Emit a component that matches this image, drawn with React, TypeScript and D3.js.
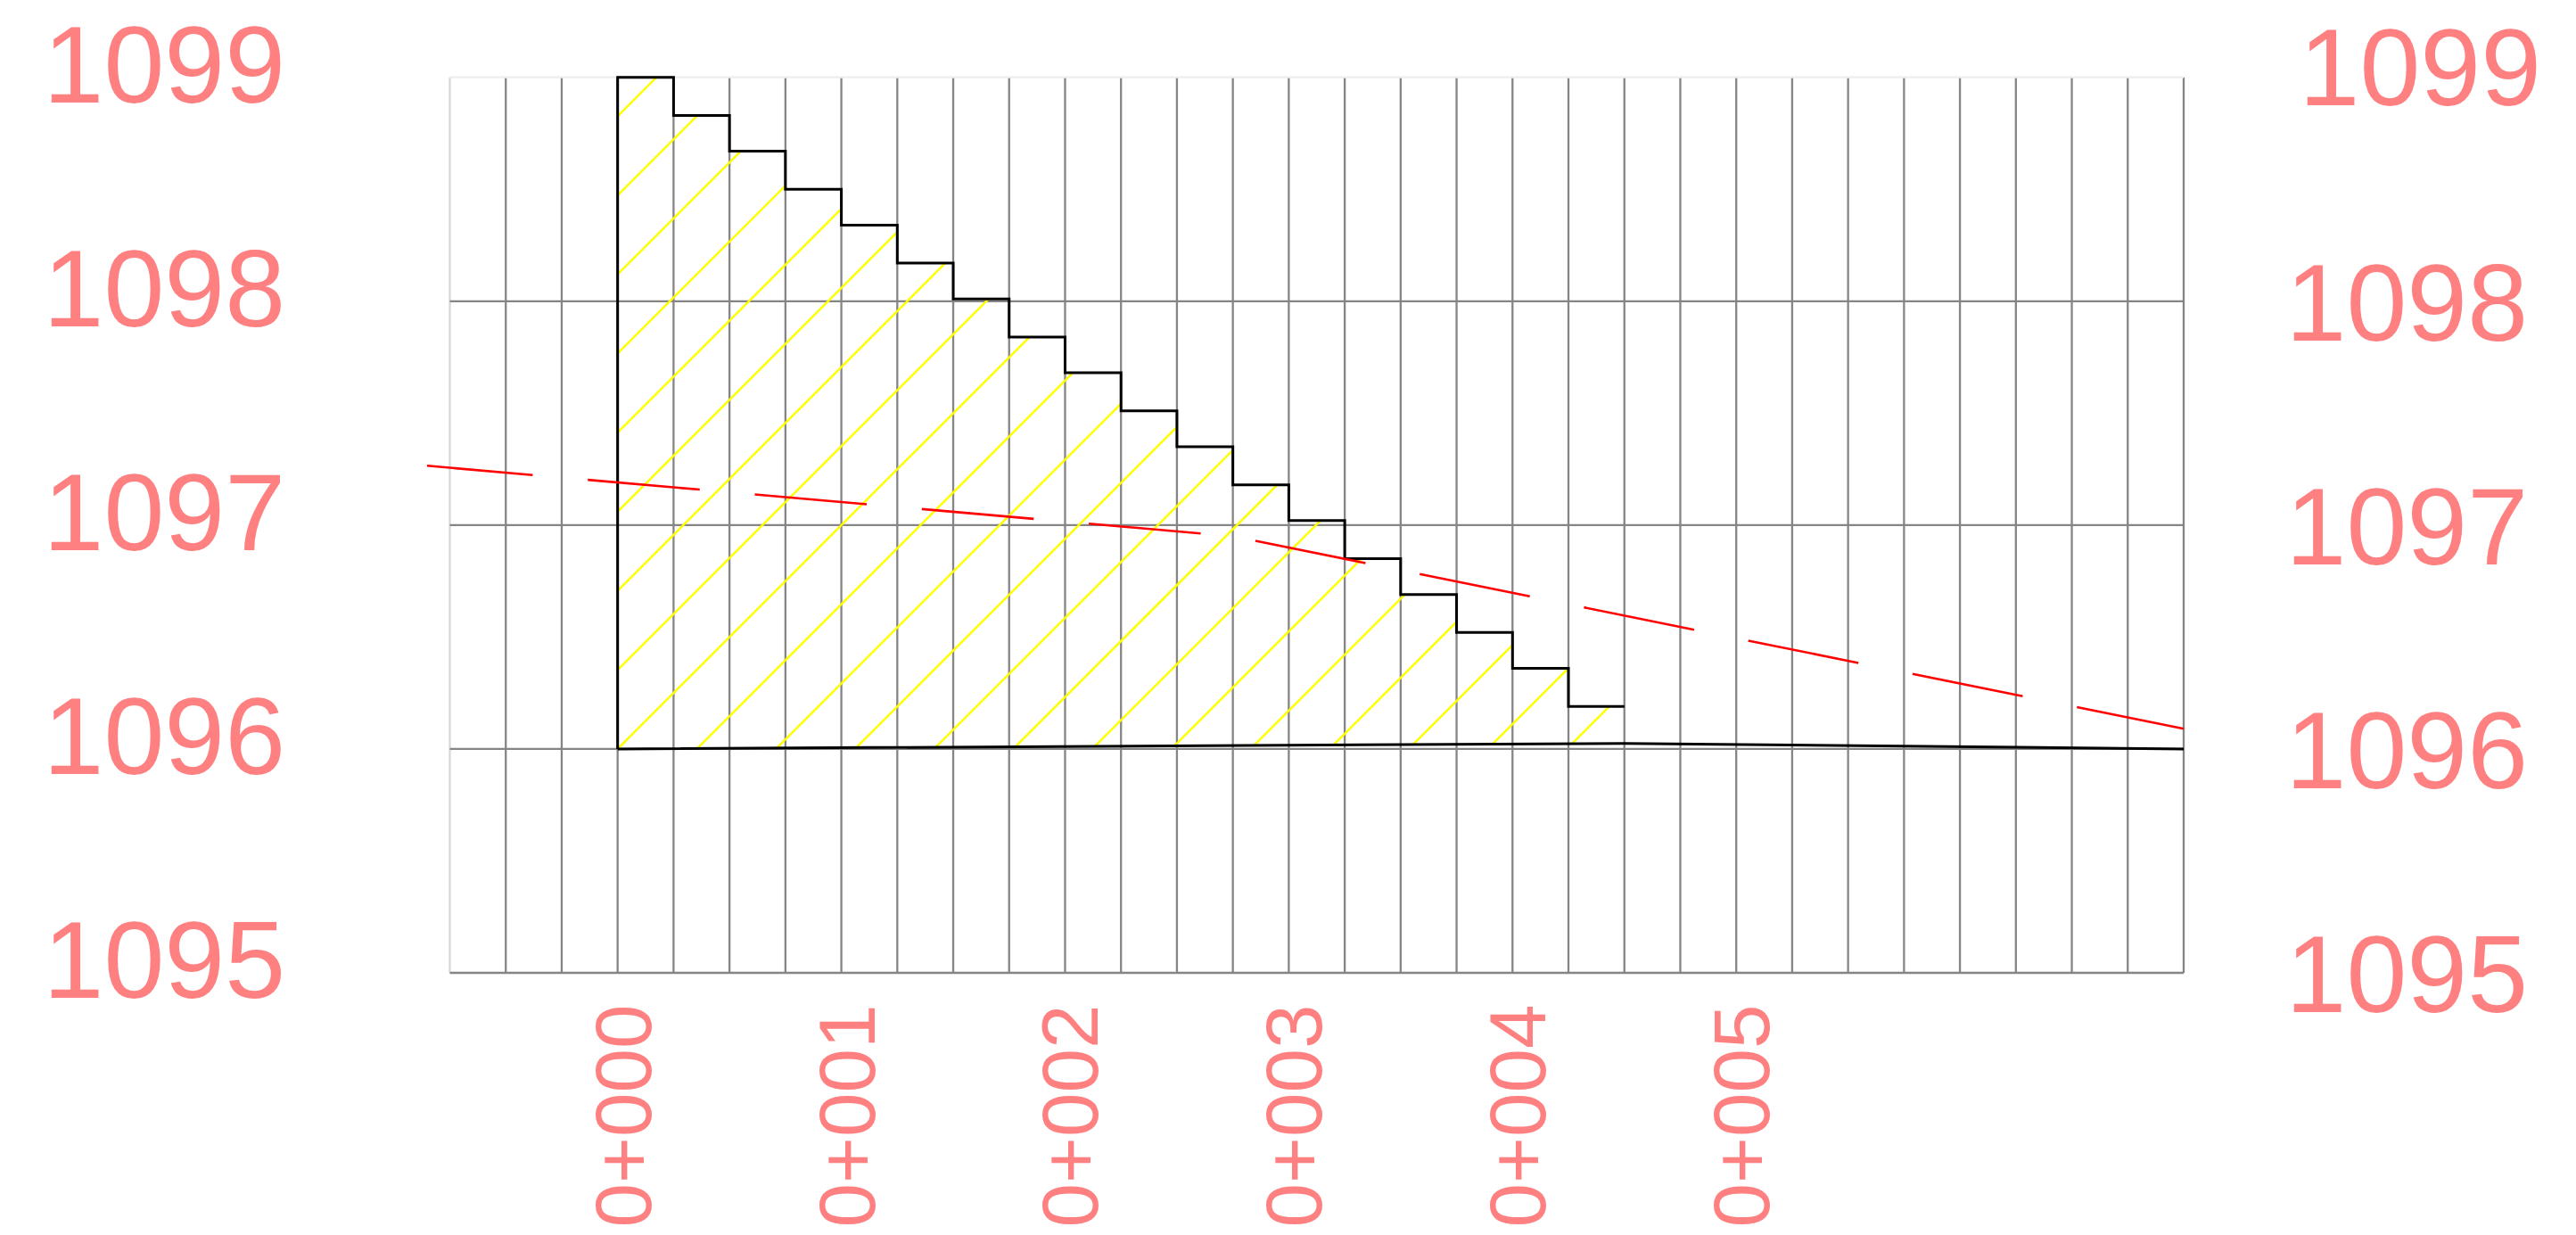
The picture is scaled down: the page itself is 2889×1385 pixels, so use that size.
import React from 'react';
import * as d3 from 'd3';

const W = 2889;
const H = 1385;

// Elevation ticks (left & right labels, horizontal grid)
const elevTicks = [1095, 1096, 1097, 1098, 1099];
// Station ticks shown on the bottom
const stationTicks = [0, 1, 2, 3, 4, 5];
const stationLabels = ['0+000', '0+001', '0+002', '0+003', '0+004', '0+005'];

// Station range of the grid and its column step
const stationMin = -0.75;
const stationMax = 7.0;
const gridStep = 0.25;

// Stepped fill profile: start station of each step and its elevation
const stepStarts = [0, 0.25, 0.5, 0.75, 1, 1.25, 1.5, 1.75, 2, 2.25, 2.5, 2.75, 3, 3.25, 3.5, 3.75, 4, 4.25];
const stepElev = [
  1099.0, 1098.83, 1098.67, 1098.5, 1098.34, 1098.17, 1098.01, 1097.84, 1097.68,
  1097.51, 1097.35, 1097.18, 1097.02, 1096.85, 1096.69, 1096.52, 1096.36, 1096.19,
];
const stepEnd = 4.5;

// Ground line
const groundX = [0, 4.5, 7.0];
const groundY = [1096.0, 1096.025, 1096.0];

// Red dashed design line
const designX = [-0.852, 2.75, 7.0];
const designY = [1097.265, 1096.95, 1096.09];

const FONT = '"Liberation Sans", Arial, Helvetica, sans-serif';
const LABEL = '#ff8080';

export default function App() {
  const x = d3.scaleLinear().domain([stationMin, stationMax]).range([504.5, 2449]);
  const y = d3.scaleLinear().domain([1095, 1099]).range([1091, 86.7]);

  const nCols = Math.round((stationMax - stationMin) / gridStep);
  const vLines = d3.range(0, nCols + 1).map((i) => stationMin + i * gridStep);

  const groundAt = d3.scaleLinear().domain(groundX).range(groundY);

  const stairPts: [number, number][] = [[0, groundAt(0)]];
  stepStarts.forEach((s, i) => stairPts.push([s, stepElev[i]]));
  stairPts.push([stepEnd, stepElev[stepElev.length - 1]]);

  const stairLine = d3
    .line<[number, number]>()
    .x((d) => x(d[0]))
    .y((d) => y(d[1]))
    .curve(d3.curveStepAfter);

  const plainLine = d3
    .line<[number, number]>()
    .x((d) => x(d[0]))
    .y((d) => y(d[1]));

  // clip polygon for hatch = stair outline + ground back to start
  const stairPath = stairLine(stairPts) || '';
  const clipPath =
    stairPath +
    `L${x(stepEnd)},${y(groundAt(stepEnd))}L${x(0)},${y(groundAt(0))}Z`;

  // hatch lines at 45°, perpendicular spacing = one grid column
  const colPx = x(gridStep) - x(0);
  const hs = colPx * Math.SQRT2;
  const c0 = x(0) + y(1096);
  const hatch = d3.range(-30, 40).map((k) => {
    const c = c0 + k * hs;
    return { x1: c - H, y1: H, x2: c, y2: 0 };
  });

  const groundPts: [number, number][] = groundX.map((g, i) => [g, groundY[i]]);
  const designPts: [number, number][] = designX.map((g, i) => [g, designY[i]]);

  return (
    <svg
      width={W}
      height={H}
      viewBox={`0 0 ${W} ${H}`}
      style={{ position: 'absolute', left: 0, top: 0, background: '#fff' }}
    >
      <rect x={0} y={0} width={W} height={H} fill="#fff" />
      <defs>
        <clipPath id="fillClip">
          <path d={clipPath} />
        </clipPath>
      </defs>

      {/* grid */}
      {vLines.map((v, i) => (
        <line
          key={'v' + i}
          x1={x(v)}
          x2={x(v)}
          y1={y(1099)}
          y2={y(1095)}
          stroke={i === 0 ? '#d8d8d8' : '#858585'}
          strokeWidth={2.3}
        />
      ))}
      {elevTicks.map((e) => (
        <line
          key={'h' + e}
          x1={x(stationMin)}
          x2={x(stationMax)}
          y1={y(e)}
          y2={y(e)}
          stroke={e === 1099 ? '#eeeeee' : '#858585'}
          strokeWidth={2.3}
        />
      ))}

      {/* hatch */}
      <g clipPath="url(#fillClip)">
        {hatch.map((h, i) => (
          <line key={'hh' + i} x1={h.x1} y1={h.y1} x2={h.x2} y2={h.y2} stroke="#ffff00" strokeWidth={2.5} />
        ))}
      </g>

      {/* ground */}
      <path d={plainLine(groundPts) || ''} fill="none" stroke="#000" strokeWidth={3} />
      {/* stepped profile */}
      <path d={stairPath} fill="none" stroke="#000" strokeWidth={3} />

      {/* red dashed design line */}
      <path
        d={plainLine(designPts) || ''}
        fill="none"
        stroke="#ff0000"
        strokeWidth={2.6}
        strokeDasharray="126 62"
        strokeDashoffset={7}
      />

      {/* left labels */}
      {elevTicks.map((e) => (
        <text
          key={'l' + e}
          x={320}
          y={y(e) + 28}
          textAnchor="end"
          fontFamily={FONT}
          fontSize={122}
          fill={LABEL}
        >
          {e}
        </text>
      ))}
      {/* right labels */}
      {elevTicks.map((e) => {
        const top = e === 1099;
        return (
          <text
            key={'r' + e}
            x={top ? 2850 : 2835}
            y={y(e) + (top ? 31 : 44)}
            textAnchor="end"
            fontFamily={FONT}
            fontSize={122}
            fill={LABEL}
          >
            {e}
          </text>
        );
      })}

      {/* station labels */}
      {stationTicks.map((s, i) => (
        <text
          key={'s' + s}
          transform={`translate(${x(s) + 37},1376.5) rotate(-90)`}
          textAnchor="start"
          fontFamily={FONT}
          fontSize={89}
          fill={LABEL}
        >
          {stationLabels[i]}
        </text>
      ))}
    </svg>
  );
}
